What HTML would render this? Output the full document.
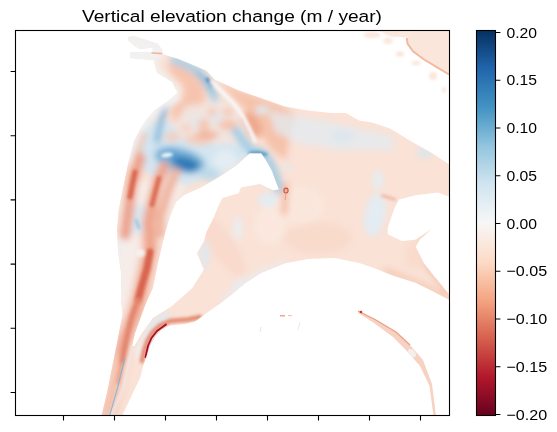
<!DOCTYPE html>
<html><head><meta charset="utf-8">
<style>
html,body{margin:0;padding:0;background:#fff;width:557px;height:432px;overflow:hidden;}
svg{display:block;font-family:"Liberation Sans",sans-serif;}
</style></head>
<body>
<svg width="557" height="432" viewBox="0 0 557 432">
<defs>
<linearGradient id="cb" x1="0" y1="1" x2="0" y2="0">
<stop offset="0" stop-color="#67001f"/>
<stop offset="0.1" stop-color="#b2182b"/>
<stop offset="0.2" stop-color="#d6604d"/>
<stop offset="0.3" stop-color="#f4a582"/>
<stop offset="0.4" stop-color="#fddbc7"/>
<stop offset="0.5" stop-color="#f7f7f7"/>
<stop offset="0.6" stop-color="#d1e5f0"/>
<stop offset="0.7" stop-color="#92c5de"/>
<stop offset="0.8" stop-color="#4393c3"/>
<stop offset="0.9" stop-color="#2166ac"/>
<stop offset="1" stop-color="#053061"/>
</linearGradient>
<clipPath id="ax"><rect x="15.5" y="30.5" width="434" height="385"/></clipPath>
<filter id="fsoft" x="-20%" y="-20%" width="140%" height="140%"><feGaussianBlur stdDeviation="3"/></filter><filter id="fmid" x="-20%" y="-20%" width="140%" height="140%"><feGaussianBlur stdDeviation="1.6"/></filter><filter id="fsharp" x="-20%" y="-20%" width="140%" height="140%"><feGaussianBlur stdDeviation="0.7"/></filter>
</defs>
<rect width="557" height="432" fill="#fff"/>
<!-- heatmap -->
<g clip-path="url(#ax)" id="heat">
<clipPath id="cm"><path clip-rule="evenodd" d="M128.2 37.5 L132.6 35.7 L146.4 40.0 L157.7 43.8 L161.5 48.9 L163.5 54.5 L178.4 59.0 L192.3 64.7 L206.2 70.5 L215.0 79.8 L238.2 90.2 L261.3 98.3 L284.5 106.4 L307.7 110.5 L331.0 113.0 L346.0 113.0 L359.0 120.5 L372.0 122.5 L390.0 128.5 L411.4 141.6 L432.3 153.2 L449.5 164.7 L449.5 300.0 L432.2 291.1 L415.6 282.8 L393.3 275.8 L376.7 268.9 L360.0 263.3 L335.0 258.0 L307.7 259.0 L284.5 263.6 L261.3 272.9 L245.1 283.3 L231.2 294.9 L219.6 304.0 L215.0 307.0 L195.0 321.5 L185.0 324.0 L170.0 325.5 L161.0 330.0 L155.5 336.5 L150.5 345.0 L147.0 355.0 L143.5 365.0 L140.0 378.0 L132.0 395.0 L122.0 416.0 L101.5 416.0 L107.2 392.0 L112.4 366.0 L117.6 340.0 L122.6 314.0 L121.0 299.5 L121.0 271.7 L118.0 250.0 L117.0 230.0 L118.5 211.0 L123.0 188.0 L127.8 164.7 L134.3 140.5 L141.0 128.0 L146.0 120.0 L155.0 110.0 L168.0 101.0 L177.6 93.0 L172.0 82.0 L157.0 72.8 L153.5 60.0 L130.0 58.0 L130.0 52.0 L152.7 52.0 L152.7 47.6 L140.0 48.9 L135.0 46.3 L128.0 40.0 Z M279.0 189.5 L276.0 182.0 L272.0 171.0 L267.0 162.0 L261.3 153.2 L249.7 153.2 L236.4 165.5 L222.5 174.7 L211.0 181.7 L200.0 188.0 L184.0 195.0 L176.0 202.0 L170.5 215.0 L165.0 233.0 L161.0 250.0 L157.5 265.0 L152.9 288.0 L146.0 303.0 L141.3 315.8 L135.0 333.0 L132.0 346.0 L134.5 346.0 L141.3 334.3 L152.9 318.0 L171.4 306.5 L192.3 288.0 L203.9 269.4 L197.0 253.2 L203.9 241.6 L206.3 232.6 L213.2 218.7 L217.9 207.1 L222.5 197.9 L238.7 193.2 L241.0 187.5 L260.0 184.0 L273.0 190.2 Z M449.5 196.7 L437.8 192.5 L415.6 195.3 L398.9 199.4 L394.7 207.8 L387.8 227.2 L387.8 234.2 L401.7 241.1 L415.6 239.7 L432.0 228.6 L419.7 239.7 L415.6 246.7 L423.9 263.3 L435.0 277.2 L448.9 293.9 L449.5 293.9 Z"/></clipPath>
<path fill-rule="evenodd" fill="#fae2d6" d="M128.2 37.5 L132.6 35.7 L146.4 40.0 L157.7 43.8 L161.5 48.9 L163.5 54.5 L178.4 59.0 L192.3 64.7 L206.2 70.5 L215.0 79.8 L238.2 90.2 L261.3 98.3 L284.5 106.4 L307.7 110.5 L331.0 113.0 L346.0 113.0 L359.0 120.5 L372.0 122.5 L390.0 128.5 L411.4 141.6 L432.3 153.2 L449.5 164.7 L449.5 300.0 L432.2 291.1 L415.6 282.8 L393.3 275.8 L376.7 268.9 L360.0 263.3 L335.0 258.0 L307.7 259.0 L284.5 263.6 L261.3 272.9 L245.1 283.3 L231.2 294.9 L219.6 304.0 L215.0 307.0 L195.0 321.5 L185.0 324.0 L170.0 325.5 L161.0 330.0 L155.5 336.5 L150.5 345.0 L147.0 355.0 L143.5 365.0 L140.0 378.0 L132.0 395.0 L122.0 416.0 L101.5 416.0 L107.2 392.0 L112.4 366.0 L117.6 340.0 L122.6 314.0 L121.0 299.5 L121.0 271.7 L118.0 250.0 L117.0 230.0 L118.5 211.0 L123.0 188.0 L127.8 164.7 L134.3 140.5 L141.0 128.0 L146.0 120.0 L155.0 110.0 L168.0 101.0 L177.6 93.0 L172.0 82.0 L157.0 72.8 L153.5 60.0 L130.0 58.0 L130.0 52.0 L152.7 52.0 L152.7 47.6 L140.0 48.9 L135.0 46.3 L128.0 40.0 Z M279.0 189.5 L276.0 182.0 L272.0 171.0 L267.0 162.0 L261.3 153.2 L249.7 153.2 L236.4 165.5 L222.5 174.7 L211.0 181.7 L200.0 188.0 L184.0 195.0 L176.0 202.0 L170.5 215.0 L165.0 233.0 L161.0 250.0 L157.5 265.0 L152.9 288.0 L146.0 303.0 L141.3 315.8 L135.0 333.0 L132.0 346.0 L134.5 346.0 L141.3 334.3 L152.9 318.0 L171.4 306.5 L192.3 288.0 L203.9 269.4 L197.0 253.2 L203.9 241.6 L206.3 232.6 L213.2 218.7 L217.9 207.1 L222.5 197.9 L238.7 193.2 L241.0 187.5 L260.0 184.0 L273.0 190.2 Z M449.5 196.7 L437.8 192.5 L415.6 195.3 L398.9 199.4 L394.7 207.8 L387.8 227.2 L387.8 234.2 L401.7 241.1 L415.6 239.7 L432.0 228.6 L419.7 239.7 L415.6 246.7 L423.9 263.3 L435.0 277.2 L448.9 293.9 L449.5 293.9 Z"/>
<path fill="#fbe6dc" d="M379.0 30.0 L406.8 32.3 L407.5 43.6 L413.0 51.3 L423.3 59.0 L436.3 66.9 L449.5 75.0 L449.5 30.0 Z"/>
<g clip-path="url(#cm)" filter="url(#fsoft)"><path d="M120.0 30.0 L165.0 42.0 L163.0 55.0 L157.0 60.0 L160.0 70.0 L172.0 80.0 L180.0 90.0 L180.0 98.0 L175.0 104.0 L162.0 111.0 L148.0 121.0 L140.0 132.0 L110.0 140.0 L110.0 30.0 Z" fill="#f1f1f1" opacity="1.00"/>
<path d="M166.0 63.0 L177.0 65.0 L190.0 69.0 L203.5 85.7 L205.4 100.5 L196.0 110.0 L186.0 121.0 L172.0 121.0 L172.0 106.0 L182.0 100.5 L184.0 86.0 L171.0 74.0 Z" fill="#f6c4ae" opacity="1.00"/>
<path d="M174.0 60.0 L186.0 64.5 L196.0 70.0 L205.4 80.0 L212.8 93.0 L216.0 102.0" fill="none" stroke="#a9cfe5" stroke-width="8.0" stroke-linecap="round" stroke-linejoin="round" opacity="1.00"/>
<path d="M198.0 73.0 L206.0 81.0 L212.0 91.0" fill="none" stroke="#6fabd4" stroke-width="3.0" stroke-linecap="round" stroke-linejoin="round" opacity="1.00"/>
<path d="M218.0 82.0 L238.0 90.0 L261.0 98.0 L284.0 106.0 L296.0 116.0 L290.0 135.0 L286.0 160.0 L272.0 150.0 L258.0 130.0 L246.0 110.0 L232.0 96.0 Z" fill="#f5c2aa" opacity="1.00"/>
<ellipse cx="252.0" cy="125.0" rx="8.0" ry="14.0" fill="#efa88e" opacity="1.00" transform="rotate(-30.0 252.0 125.0)"/>
<ellipse cx="262.0" cy="110.0" rx="7.0" ry="4.0" fill="#dde9f1" opacity="1.00" transform="rotate(0.0 262.0 110.0)"/>
<path d="M186.0 106.0 L205.0 104.0 L220.0 100.0 L238.0 112.0 L250.0 135.0 L240.0 142.0 L200.0 145.0 L180.0 140.0 L172.0 128.0 Z" fill="#f1e4df" opacity="1.00"/>
<path d="M140.0 132.0 L160.0 118.0 L172.0 124.0 L180.0 138.0 L196.0 140.0 L215.0 144.0 L245.0 144.0 L262.0 152.0 L250.0 154.0 L236.0 166.0 L222.0 175.0 L200.0 180.0 L185.0 186.0 L170.0 182.0 L150.0 175.0 L135.0 160.0 L132.0 146.0 Z" fill="#d3e5f0" opacity="1.00"/>
<ellipse cx="216.0" cy="118.0" rx="6.0" ry="4.0" fill="#dbe8f1" opacity="1.00" transform="rotate(0.0 216.0 118.0)"/>
<ellipse cx="196.0" cy="122.0" rx="5.0" ry="4.0" fill="#dde9f1" opacity="1.00" transform="rotate(0.0 196.0 122.0)"/>
<ellipse cx="238.0" cy="132.0" rx="5.0" ry="4.0" fill="#dde9f1" opacity="1.00" transform="rotate(0.0 238.0 132.0)"/>
<ellipse cx="198.0" cy="140.0" rx="14.0" ry="5.0" fill="#f4cdbd" opacity="1.00" transform="rotate(5.0 198.0 140.0)"/>
<path d="M166.0 106.0 L162.0 118.0 L159.0 130.0 L157.0 141.0" fill="none" stroke="#7ab0d6" stroke-width="5.0" stroke-linecap="round" stroke-linejoin="round" opacity="1.00"/>
<path d="M172.0 99.0 L155.0 111.0 L146.0 121.0 L140.0 131.0 L134.0 143.0 L129.0 160.0" fill="none" stroke="#f0f3f5" stroke-width="7.0" stroke-linecap="round" stroke-linejoin="round" opacity="1.00"/>
<ellipse cx="204.0" cy="125.0" rx="6.0" ry="6.0" fill="#f5c6b0" opacity="1.00" transform="rotate(0.0 204.0 125.0)"/>
<ellipse cx="207.0" cy="135.0" rx="12.0" ry="4.0" fill="#f2b49c" opacity="1.00" transform="rotate(0.0 207.0 135.0)"/>
<ellipse cx="228.0" cy="125.0" rx="10.0" ry="5.0" fill="#f5c2ac" opacity="1.00" transform="rotate(0.0 228.0 125.0)"/>
<ellipse cx="172.0" cy="137.0" rx="8.0" ry="4.0" fill="#f6cab6" opacity="1.00" transform="rotate(0.0 172.0 137.0)"/>
<ellipse cx="186.0" cy="128.0" rx="6.0" ry="3.0" fill="#f6cdb9" opacity="1.00" transform="rotate(0.0 186.0 128.0)"/>
<ellipse cx="228.0" cy="112.0" rx="6.0" ry="4.0" fill="#f5c9b6" opacity="1.00" transform="rotate(0.0 228.0 112.0)"/>
<ellipse cx="212.0" cy="112.0" rx="5.0" ry="4.0" fill="#f5c9b6" opacity="1.00" transform="rotate(0.0 212.0 112.0)"/>
<ellipse cx="180.0" cy="160.0" rx="26.0" ry="12.0" fill="#79b2d8" opacity="1.00" transform="rotate(15.0 180.0 160.0)"/>
<ellipse cx="186.0" cy="164.0" rx="14.0" ry="7.0" fill="#2d7ab7" opacity="1.00" transform="rotate(15.0 186.0 164.0)"/>
<ellipse cx="172.0" cy="155.0" rx="8.0" ry="4.0" fill="#5b9fcf" opacity="1.00" transform="rotate(5.0 172.0 155.0)"/>
<ellipse cx="208.0" cy="174.0" rx="12.0" ry="6.0" fill="#bcd9ea" opacity="1.00" transform="rotate(10.0 208.0 174.0)"/>
<ellipse cx="225.0" cy="160.0" rx="12.0" ry="10.0" fill="#e3edf3" opacity="1.00" transform="rotate(0.0 225.0 160.0)"/>
<path d="M236.0 131.0 L244.0 142.0 L252.0 151.0 L262.0 153.0 L268.0 160.0 L273.0 170.0 L277.0 181.0 L279.0 190.0" fill="none" stroke="#a6cde3" stroke-width="9.0" stroke-linecap="round" stroke-linejoin="round" opacity="1.00"/>
<ellipse cx="287.0" cy="167.0" rx="4.0" ry="3.0" fill="#dfeaf2" opacity="1.00" transform="rotate(0.0 287.0 167.0)"/>
<path d="M144.0 134.0 L139.0 148.0 L135.0 160.0" fill="none" stroke="#f1c0ac" stroke-width="5.0" stroke-linecap="round" stroke-linejoin="round" opacity="1.00"/>
<path d="M123.0 188.0 L150.0 180.0 L170.0 176.0 L186.0 186.0 L178.0 200.0 L172.0 216.0 L165.0 233.0 L161.0 250.0 L157.5 265.0 L152.9 288.0 L146.0 303.0 L141.3 315.8 L135.0 333.0 L132.0 346.0 L125.0 380.0 L115.0 416.0 L95.0 416.0 L105.0 380.0 L112.0 340.0 L116.0 300.0 L116.0 250.0 L118.0 210.0 Z" fill="#f6ece8" opacity="1.00"/>
<path d="M150.0 215.0 L148.0 223.0 L150.6 246.0 L146.0 269.5 L139.0 300.0 L134.7 314.0 L124.3 340.0 L119.0 363.0 L114.0 390.0 L108.0 412.0" fill="none" stroke="#f6cfc0" stroke-width="19.0" stroke-linecap="round" stroke-linejoin="round" opacity="1.00"/>
<path d="M126.0 205.0 L148.0 205.0 L147.0 234.0 L124.0 234.0 Z" fill="#d8e7f1" opacity="0.90"/>
<path d="M140.0 158.0 L134.0 177.0 L131.0 191.0 L129.4 203.0 L127.0 220.0 L125.0 235.0" fill="none" stroke="#eda38c" stroke-width="11.0" stroke-linecap="round" stroke-linejoin="round" opacity="1.00"/>
<path d="M176.0 172.0 L169.3 188.0 L164.0 205.0 L160.6 217.0 L160.0 234.0" fill="none" stroke="#f0b39c" stroke-width="9.0" stroke-linecap="round" stroke-linejoin="round" opacity="1.00"/>
<path d="M164.0 167.0 L157.0 184.0 L153.0 200.0 L148.0 223.0 L150.6 246.0 L146.0 269.5 L139.0 300.0 L134.7 314.0 L124.3 340.0 L120.0 358.0" fill="none" stroke="#efa48c" stroke-width="11.0" stroke-linecap="round" stroke-linejoin="round" opacity="1.00"/>
<path d="M120.0 358.0 L116.0 380.0 L111.0 400.0 L106.0 416.0" fill="none" stroke="#f3c0ac" stroke-width="8.0" stroke-linecap="round" stroke-linejoin="round" opacity="1.00"/>
<path d="M121.0 240.0 L118.0 260.0" fill="none" stroke="#eaf0f4" stroke-width="4.0" stroke-linecap="round" stroke-linejoin="round" opacity="1.00"/>
<ellipse cx="140.0" cy="350.0" rx="4.0" ry="9.0" fill="#eef0f2" opacity="1.00" transform="rotate(20.0 140.0 350.0)"/>
<path d="M268.0 110.0 L300.0 117.0 L332.0 122.0 L359.0 129.0 L392.0 136.0 L394.0 150.0 L340.0 150.0 L300.0 144.0 L275.0 132.0 Z" fill="#e2ebf1" opacity="0.75"/>
<ellipse cx="343.0" cy="136.0" rx="12.0" ry="6.0" fill="#d8e6ef" opacity="0.80" transform="rotate(0.0 343.0 136.0)"/>
<ellipse cx="318.0" cy="238.0" rx="34.0" ry="16.0" fill="#f8d5c5" opacity="0.55" transform="rotate(0.0 318.0 238.0)"/>
<ellipse cx="222.0" cy="245.0" rx="12.0" ry="38.0" fill="#f8d6c6" opacity="0.60" transform="rotate(-35.0 222.0 245.0)"/>
<ellipse cx="238.0" cy="228.0" rx="4.0" ry="12.0" fill="#e8eff3" opacity="1.00" transform="rotate(0.0 238.0 228.0)"/>
<ellipse cx="272.0" cy="198.0" rx="4.0" ry="6.0" fill="#dfeaf2" opacity="1.00" transform="rotate(0.0 272.0 198.0)"/>
<ellipse cx="270.0" cy="225.0" rx="16.0" ry="20.0" fill="#fbe9e1" opacity="0.70" transform="rotate(0.0 270.0 225.0)"/>
<ellipse cx="375.0" cy="215.0" rx="10.0" ry="22.0" fill="#e2ecf3" opacity="1.00" transform="rotate(10.0 375.0 215.0)"/>
<ellipse cx="378.0" cy="180.0" rx="5.0" ry="10.0" fill="#e4edf3" opacity="1.00" transform="rotate(0.0 378.0 180.0)"/>
<ellipse cx="205.0" cy="255.0" rx="4.0" ry="14.0" fill="#dce9f2" opacity="1.00" transform="rotate(0.0 205.0 255.0)"/>
<ellipse cx="240.0" cy="285.0" rx="10.0" ry="5.0" fill="#e3ecf2" opacity="1.00" transform="rotate(-35.0 240.0 285.0)"/>
<path d="M222.0 301.0 L233.0 291.0 L247.0 280.0 L262.0 271.0 L284.0 263.0" fill="none" stroke="#e8eef2" stroke-width="5.0" stroke-linecap="round" stroke-linejoin="round" opacity="0.80"/>
<ellipse cx="424.0" cy="153.0" rx="8.0" ry="4.0" fill="#d7e7f1" opacity="1.00" transform="rotate(20.0 424.0 153.0)"/>
<ellipse cx="300.0" cy="205.0" rx="25.0" ry="20.0" fill="#fbe8de" opacity="0.70" transform="rotate(0.0 300.0 205.0)"/>
<path d="M286.0 186.0 L285.0 196.0 L284.0 212.0" fill="none" stroke="#f4c0aa" stroke-width="7.0" stroke-linecap="round" stroke-linejoin="round" opacity="1.00"/>
<ellipse cx="268.0" cy="200.0" rx="10.0" ry="7.0" fill="#e3ecf2" opacity="1.00" transform="rotate(0.0 268.0 200.0)"/>
<path d="M424.0 262.0 L447.0 292.0" fill="none" stroke="#f0b39a" stroke-width="3.0" stroke-linecap="round" stroke-linejoin="round" opacity="1.00"/>
<path d="M385.0 271.0 L400.0 276.0 L415.0 282.0 L432.0 290.0 L448.0 298.0" fill="none" stroke="#f3bca3" stroke-width="3.5" stroke-linecap="round" stroke-linejoin="round" opacity="1.00"/>
<ellipse cx="420.0" cy="250.0" rx="12.0" ry="20.0" fill="#f9d9ca" opacity="0.80" transform="rotate(30.0 420.0 250.0)"/>
<ellipse cx="160.0" cy="320.0" rx="12.0" ry="4.0" fill="#dde9f2" opacity="1.00" transform="rotate(-30.0 160.0 320.0)"/>
<ellipse cx="149.0" cy="334.0" rx="4.0" ry="10.0" fill="#e2ecf3" opacity="1.00" transform="rotate(30.0 149.0 334.0)"/></g>
<g clip-path="url(#cm)" filter="url(#fmid)"><path d="M207.0 79.0 L212.0 85.0" fill="none" stroke="#2f75b0" stroke-width="2.5" stroke-linecap="round" stroke-linejoin="round" opacity="1.00"/>
<path d="M212.0 82.0 L222.0 92.0 L234.0 104.0 L244.0 118.0 L250.0 130.0 L255.0 141.0" fill="none" stroke="#f7f6f6" stroke-width="4.0" stroke-linecap="round" stroke-linejoin="round" opacity="1.00"/>
<ellipse cx="167.0" cy="155.0" rx="6.0" ry="2.2" fill="#f2f7fa" opacity="1.00" transform="rotate(-8.0 167.0 155.0)"/>
<path d="M250.0 153.0 L258.0 152.5 L266.0 154.5" fill="none" stroke="#4f97c8" stroke-width="3.0" stroke-linecap="round" stroke-linejoin="round" opacity="1.00"/>
<path d="M136.0 220.0 L139.0 228.0" fill="none" stroke="#92c5de" stroke-width="2.5" stroke-linecap="round" stroke-linejoin="round" opacity="1.00"/>
<path d="M135.0 172.0 L132.0 186.0 L130.0 197.0" fill="none" stroke="#d9684f" stroke-width="5.0" stroke-linecap="round" stroke-linejoin="round" opacity="1.00"/>
<path d="M159.0 178.0 L155.0 193.0 L152.0 205.0" fill="none" stroke="#db6d55" stroke-width="4.5" stroke-linecap="round" stroke-linejoin="round" opacity="1.00"/>
<path d="M150.0 252.0 L147.0 268.0 L142.0 285.0 L138.0 300.0" fill="none" stroke="#d8654f" stroke-width="7.0" stroke-linecap="round" stroke-linejoin="round" opacity="1.00"/>
<path d="M138.0 300.0 L132.0 316.0 L128.0 332.0 L125.0 346.0 L121.5 364.0" fill="none" stroke="#e28670" stroke-width="5.0" stroke-linecap="round" stroke-linejoin="round" opacity="1.00"/>
<path d="M121.5 364.0 L118.0 382.0" fill="none" stroke="#eba38d" stroke-width="4.0" stroke-linecap="round" stroke-linejoin="round" opacity="1.00"/>
<ellipse cx="140.0" cy="253.0" rx="5.0" ry="4.0" fill="#f6f0ee" opacity="1.00" transform="rotate(0.0 140.0 253.0)"/>
<path d="M132.5 346.0 L128.0 366.0 L123.5 388.0 L116.0 405.0 L111.0 416.0" fill="none" stroke="#f3eeec" stroke-width="2.0" stroke-linecap="round" stroke-linejoin="round" opacity="1.00"/>
<path d="M382.0 195.5 L395.0 199.5" fill="none" stroke="#eca88f" stroke-width="2.0" stroke-linecap="round" stroke-linejoin="round" opacity="1.00"/>
<path d="M200.0 317.0 L188.0 319.5 L170.0 321.0 L160.0 325.5 L152.5 332.5 L147.5 341.0 L144.0 351.0 L142.0 361.0" fill="none" stroke="#e58a72" stroke-width="4.5" stroke-linecap="round" stroke-linejoin="round" opacity="1.00"/></g>
<g clip-path="url(#cm)" filter="url(#fsharp)"><path d="M152.0 53.0 L161.5 53.5" fill="none" stroke="#f0a585" stroke-width="1.3" stroke-linecap="round" stroke-linejoin="round" opacity="0.80"/>
<path d="M125.0 358.0 L121.0 374.0 L117.0 390.0 L113.0 404.0 L109.5 416.0" fill="none" stroke="#7ab6da" stroke-width="1.0" stroke-linecap="round" stroke-linejoin="round" opacity="1.00"/>
<ellipse cx="286.0" cy="190.6" rx="2.1" ry="2.5" fill="#f2b39c" opacity="1.00" transform="rotate(0.0 286.0 190.6)"/>
<path d="M166.0 324.5 L157.0 331.0 L151.5 338.0 L148.0 346.0 L145.5 357.0" fill="none" stroke="#a50f25" stroke-width="1.8" stroke-linecap="round" stroke-linejoin="round" opacity="1.00"/></g>
<path d="M378 30.5 L412 30.5 L412 38 L392 36.5 Z" fill="#fbe9e0"/>
<path d="M406.8 38 L407.5 43.6 L413 51.3 L423.3 59 L436.3 66.9 L449 74.5" fill="none" stroke="#f3b99e" stroke-width="2"/>
<g filter="url(#fmid)"><ellipse cx="372" cy="35" rx="9" ry="3" fill="#fbe6dc"/><ellipse cx="388" cy="41" rx="5" ry="3" fill="#fbe6dc"/><ellipse cx="392" cy="33" rx="8" ry="2.5" fill="#fbe6dc"/><ellipse cx="400" cy="54" rx="4" ry="2.5" fill="#fbe2d6"/><ellipse cx="416" cy="63" rx="5" ry="2" fill="#fbe6dc"/><ellipse cx="433" cy="76" rx="4" ry="4" fill="#fbe6dc"/><ellipse cx="444" cy="90" rx="2" ry="3" fill="#fbe6dc"/></g>
<path d="M358.0 311.0 L375.0 319.5 L396.0 332.0 L410.0 345.0 L423.0 360.0 L432.0 384.0 L436.0 416.0 L433.5 416.0 L429.5 386.0 L420.0 366.0 L406.0 350.0 L393.0 337.0 L374.0 323.0 L359.0 313.5 Z" fill="#f7d2c2"/>
<path d="M358 311 L375 319.5 L396 332 L410 345" fill="none" stroke="#ec9f86" stroke-width="1.3"/>
<ellipse cx="412" cy="353" rx="3" ry="5" fill="#f2f0ef" transform="rotate(-40 412 353)"/>
<circle cx="361" cy="312" r="1.3" fill="#c0392b"/>
<g clip-path="url(#cm)"><ellipse cx="286" cy="190.6" rx="2.1" ry="2.5" fill="none" stroke="#cc5340" stroke-width="1.1"/><path d="M285.8 193.2 L285.2 200" stroke="#eaa088" stroke-width="1"/></g>
<g fill="#eea58c"><rect x="280" y="315" width="5" height="1.5"/><rect x="288" y="315" width="4" height="1.2" fill="#f5c9b7"/></g><path d="M300 322 L298 330" stroke="#eeeeee" stroke-width="1.2"/><path d="M261 327 L260 332" stroke="#f0e6e2" stroke-width="1.2"/>
</g><!--endheat-->
<!-- axes frame -->
<rect x="15.5" y="30.5" width="434" height="385" fill="none" stroke="#000" stroke-width="1.1"/>
<g stroke="#000" stroke-width="1.1">
<path d="M10.6 71.5H15.5M10.6 135.7H15.5M10.6 199.9H15.5M10.6 264.1H15.5M10.6 328.3H15.5M10.6 392.5H15.5"/>
<path d="M63.5 415.5V420.4M114.5 415.5V420.4M165.5 415.5V420.4M216.5 415.5V420.4M267.5 415.5V420.4M318.5 415.5V420.4M369.5 415.5V420.4M420.5 415.5V420.4"/>
</g>
<text x="82" y="21.6" font-size="16.7" textLength="300" lengthAdjust="spacingAndGlyphs" fill="#000">Vertical elevation change (m / year)</text>
<!-- colorbar -->
<rect x="476.5" y="30.5" width="19" height="385" fill="url(#cb)"/>
<rect x="476.5" y="30.5" width="19" height="385" fill="none" stroke="#000" stroke-width="1.1"/>
<g stroke="#000" stroke-width="1.1">
<path d="M495.5 32.50H500.4M495.5 80.25H500.4M495.5 128.00H500.4M495.5 175.75H500.4M495.5 223.50H500.4M495.5 271.25H500.4M495.5 319.00H500.4M495.5 366.75H500.4M495.5 414.50H500.4"/>
</g>
<g font-size="14.9" fill="#000">
<text x="506.4" y="37.70" textLength="30.6" lengthAdjust="spacingAndGlyphs">0.20</text>
<text x="506.4" y="85.45" textLength="30.6" lengthAdjust="spacingAndGlyphs">0.15</text>
<text x="506.4" y="133.20" textLength="30.6" lengthAdjust="spacingAndGlyphs">0.10</text>
<text x="506.4" y="180.95" textLength="30.6" lengthAdjust="spacingAndGlyphs">0.05</text>
<text x="506.4" y="228.70" textLength="30.6" lengthAdjust="spacingAndGlyphs">0.00</text>
<text x="506.4" y="276.45" textLength="40.8" lengthAdjust="spacingAndGlyphs">−0.05</text>
<text x="506.4" y="324.20" textLength="40.8" lengthAdjust="spacingAndGlyphs">−0.10</text>
<text x="506.4" y="371.95" textLength="40.8" lengthAdjust="spacingAndGlyphs">−0.15</text>
<text x="506.4" y="419.70" textLength="40.8" lengthAdjust="spacingAndGlyphs">−0.20</text>
</g>
</svg>
</body></html>
